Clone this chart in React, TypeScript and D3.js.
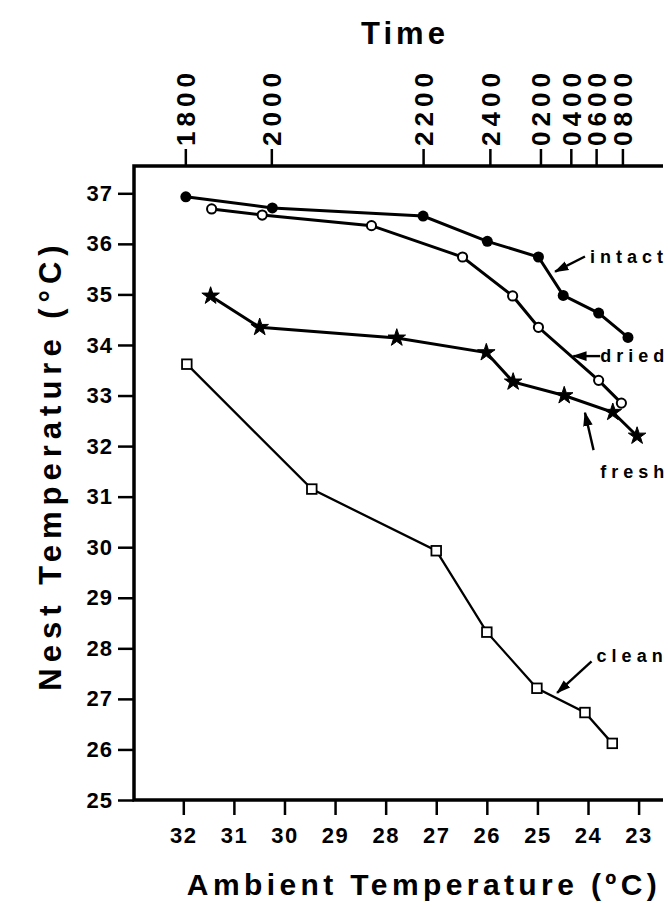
import React, { useEffect, useRef } from "react"
import * as d3 from "d3"

// ambient temperature (x) and nest temperature (y) for each nest treatment
const intactAmbient = [31.95, 30.24, 27.26, 25.99, 24.98, 24.49, 23.79, 23.21]
const intactNest = [36.93, 36.71, 36.55, 36.05, 35.74, 34.98, 34.63, 34.15]
const driedAmbient = [31.44, 30.44, 28.28, 26.48, 25.49, 24.98, 23.79, 23.34]
const driedNest = [36.69, 36.57, 36.36, 35.74, 34.97, 34.35, 33.3, 32.85]
const freshAmbient = [31.46, 30.49, 27.78, 26.01, 25.48, 24.47, 23.51, 23.03]
const freshNest = [34.97, 34.35, 34.14, 33.85, 33.27, 33.0, 32.67, 32.2]
const cleanAmbient = [31.93, 29.46, 27.0, 26.0, 25.01, 24.06, 23.52]
const cleanNest = [33.62, 31.15, 29.93, 28.32, 27.21, 26.73, 26.12]

const ambientTicks = [32, 31, 30, 29, 28, 27, 26, 25, 24, 23]
const nestTicks = [25, 26, 27, 28, 29, 30, 31, 32, 33, 34, 35, 36, 37]
const timeLabels = ["1800", "2000", "2200", "2400", "0200", "0400", "0600", "0800"]
const timeAmbient = [31.95, 30.25, 27.25, 25.93, 24.93, 24.33, 23.83, 23.31]

// label text position and arrow (from -> to), in data units
const labelNames = ["intact", "dried", "fresh", "clean"]
const labelAt = [[23.96, 35.62], [23.76, 33.67], [23.76, 31.37], [23.83, 27.73]]
const arrowFrom = [[24.06, 35.75], [23.76, 33.78], [23.89, 31.92], [23.93, 27.74]]
const arrowTo = [[24.65, 35.45], [24.29, 33.78], [24.06, 32.66], [24.61, 27.12]]

const W = 668
const H = 907
const FONT = "'Liberation Sans', Arial, Helvetica, sans-serif"

const App = () => {
    const ref = useRef<SVGSVGElement>(null)

    useEffect(() => {
        const svg = d3.select(ref.current)
        svg.selectAll("*").remove()

        const x = d3.scaleLinear().domain([32, 23]).range([183.3, 638.6])
        const y = d3.scaleLinear().domain([25, 37]).range([800, 193.3])
        const left = 134
        const top = 166
        const right = 663
        const bottom = y(25)

        svg.append("rect").attr("width", W).attr("height", H).attr("fill", "#fff")

        const defs = svg.append("defs")
        defs.append("marker")
            .attr("id", "head")
            .attr("viewBox", "0 0 12 10")
            .attr("refX", 11)
            .attr("refY", 5)
            .attr("markerWidth", 6)
            .attr("markerHeight", 5)
            .attr("orient", "auto")
            .attr("markerUnits", "strokeWidth")
            .append("path")
            .attr("d", "M0,1 L12,5 L0,9 Z")
            .attr("fill", "#000")

        // frame (no right edge)
        svg.append("path")
            .attr("d", `M${right},${top}H${left}V${bottom}H${right}`)
            .attr("fill", "none")
            .attr("stroke", "#000")
            .attr("stroke-width", 3.5)

        // left axis
        const yAxis = d3.axisLeft(y).tickValues(nestTicks).tickSize(16).tickPadding(5)
        const gy = svg.append("g").attr("transform", `translate(${left},0)`).call(yAxis)
        gy.select(".domain").remove()
        gy.selectAll("line").attr("stroke-width", 2.5)
        gy.selectAll("text")
            .attr("font-family", FONT)
            .attr("font-weight", "bold")
            .attr("font-size", 22)
            .attr("letter-spacing", 1)
            .attr("fill", "#000")

        // bottom axis
        const xAxis = d3.axisBottom(x).tickValues(ambientTicks).tickSize(15).tickPadding(12)
        const gx = svg.append("g").attr("transform", `translate(0,${bottom})`).call(xAxis)
        gx.select(".domain").remove()
        gx.selectAll("line").attr("stroke-width", 2.5)
        gx.selectAll("text")
            .attr("font-family", FONT)
            .attr("font-weight", "bold")
            .attr("font-size", 22)
            .attr("letter-spacing", 1.5)
            .attr("fill", "#000")

        // top time axis
        const tg = svg.append("g")
        timeAmbient.forEach((v, i) => {
            tg.append("line")
                .attr("x1", x(v)).attr("x2", x(v))
                .attr("y1", top).attr("y2", top - 17)
                .attr("stroke", "#000")
                .attr("stroke-width", 2.5)
            tg.append("text")
                .attr("transform", `translate(${x(v) + 9.5},${top - 20}) rotate(-90)`)
                .attr("font-family", FONT)
                .attr("font-weight", "bold")
                .attr("font-size", 26)
                .attr("letter-spacing", 5)
                .text(timeLabels[i])
        })

        // axis titles
        svg.append("text")
            .attr("x", 405).attr("y", 44)
            .attr("text-anchor", "middle")
            .attr("font-family", FONT)
            .attr("font-weight", "bold")
            .attr("font-size", 31)
            .attr("letter-spacing", 4)
            .text("Time")
        svg.append("text")
            .attr("transform", `translate(61,${465}) rotate(-90)`)
            .attr("text-anchor", "middle")
            .attr("font-family", FONT)
            .attr("font-weight", "bold")
            .attr("font-size", 31)
            .attr("letter-spacing", 6)
            .text("Nest Temperature (°C)")
        svg.append("text")
            .attr("x", 424).attr("y", 895)
            .attr("text-anchor", "middle")
            .attr("font-family", FONT)
            .attr("font-weight", "bold")
            .attr("font-size", 30)
            .attr("letter-spacing", 4.4)
            .text("Ambient Temperature (ºC)")

        const line = d3.line<number[]>().x(d => x(d[0])).y(d => y(d[1]))
        const pts = (a: number[], b: number[]) => a.map((v, i) => [v, b[i]])

        const series = [
            { p: pts(intactAmbient, intactNest), w: 3, kind: "filled" },
            { p: pts(driedAmbient, driedNest), w: 3, kind: "open" },
            { p: pts(freshAmbient, freshNest), w: 3, kind: "star" },
            { p: pts(cleanAmbient, cleanNest), w: 2.3, kind: "square" },
        ]

        const star = d3.symbol().type(d3.symbolStar).size(95)
        series.forEach(s => {
            svg.append("path")
                .attr("d", line(s.p))
                .attr("fill", "none")
                .attr("stroke", "#000")
                .attr("stroke-width", s.w)
            const g = svg.append("g")
            s.p.forEach(d => {
                if (s.kind === "filled") {
                    g.append("circle").attr("cx", x(d[0])).attr("cy", y(d[1])).attr("r", 5.5).attr("fill", "#000")
                } else if (s.kind === "open") {
                    g.append("circle").attr("cx", x(d[0])).attr("cy", y(d[1])).attr("r", 4.6)
                        .attr("fill", "#fff").attr("stroke", "#000").attr("stroke-width", 2)
                } else if (s.kind === "star") {
                    g.append("path").attr("d", star()).attr("transform", `translate(${x(d[0])},${y(d[1])})`)
                        .attr("fill", "#000").attr("stroke", "#000").attr("stroke-width", 1)
                } else {
                    g.append("rect").attr("x", x(d[0]) - 4.8).attr("y", y(d[1]) - 4.8)
                        .attr("width", 9.6).attr("height", 9.6)
                        .attr("fill", "#fff").attr("stroke", "#000").attr("stroke-width", 1.8)
                }
            })
        })

        // labels with arrows
        labelNames.forEach((name, i) => {
            svg.append("line")
                .attr("x1", x(arrowFrom[i][0])).attr("y1", y(arrowFrom[i][1]))
                .attr("x2", x(arrowTo[i][0])).attr("y2", y(arrowTo[i][1]))
                .attr("stroke", "#000")
                .attr("stroke-width", 2.4)
                .attr("marker-end", "url(#head)")
            svg.append("text")
                .attr("x", x(labelAt[i][0])).attr("y", y(labelAt[i][1]))
                .attr("font-family", FONT)
                .attr("font-weight", "bold")
                .attr("font-size", 18)
                .attr("letter-spacing", 5)
                .text(name)
        })
    }, [])

    return <svg ref={ref} width={W} height={H} style={{ position: "absolute", left: 0, top: 0 }} />
}

export default App
